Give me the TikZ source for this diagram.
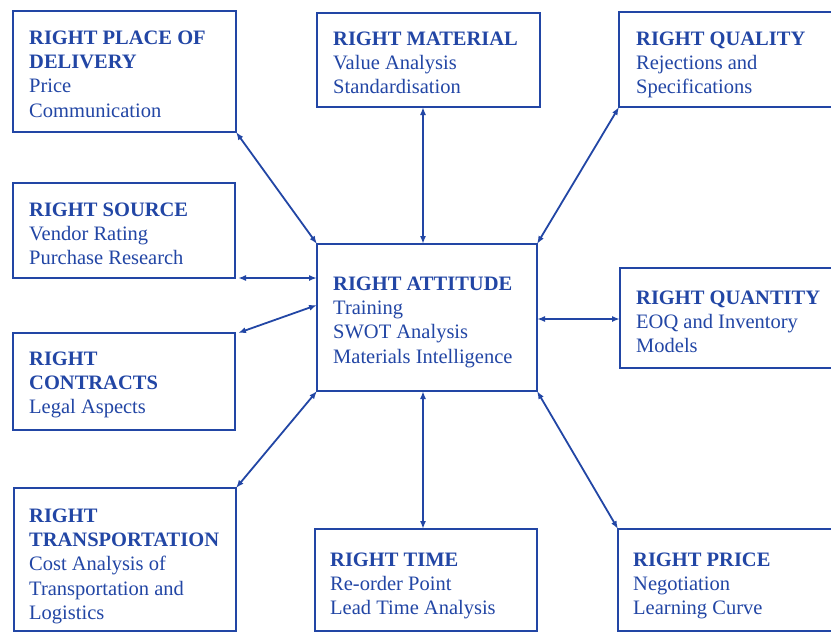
\documentclass[tikz,border=0pt]{standalone}
\usepackage{fontspec}
\setmainfont{Liberation Serif}
\usetikzlibrary{arrows.meta}
\definecolor{ink}{RGB}{34,70,165}
\newcommand{\topstrut}{\rule{0pt}{15pt}}
\tikzset{
  box/.style={draw=ink, line width=2.6pt, inner sep=0pt, outer sep=0pt, rectangle},
  txt/.style={text=ink, anchor=north west, align=left, inner sep=0pt,
    font=\fontsize{20.5}{24.3}\selectfont},
  link/.style={draw=ink, line width=1.8pt,
    {Latex[length=8pt,width=6pt]}-{Latex[length=8pt,width=6pt]}}
}
\begin{document}
\begin{tikzpicture}[x=1pt,y=-1pt]
\clip (0,0) rectangle (831,633);
\fill[white] (0,0) rectangle (831,633);
% boxes
\node[box, minimum width=223, minimum height=121] (del) at (124.5,71.5) {};
\node[box, minimum width=223, minimum height=94]  (mat) at (428.5,60) {};
\node[box, minimum width=221, minimum height=95]  (qua) at (729.5,59.5) {};
\node[box, minimum width=222, minimum height=95]  (src) at (124,230.5) {};
\node[box, minimum width=222, minimum height=97]  (con) at (124,381.5) {};
\node[box, minimum width=220, minimum height=147] (att) at (427,317.5) {};
\node[box, minimum width=220, minimum height=100] (qty) at (730,318) {};
\node[box, minimum width=222, minimum height=143] (tra) at (125,559.5) {};
\node[box, minimum width=222, minimum height=102] (tim) at (426,580) {};
\node[box, minimum width=222, minimum height=102] (pri) at (729,580) {};
% texts
\node[txt] (tdel) at (29,29) {\topstrut\textbf{RIGHT PLACE OF}\\\textbf{DELIVERY}\\Price\\Communication};
\node[txt] (tmat) at (333,30) {\topstrut\textbf{RIGHT MATERIAL}\\Value Analysis\\Standardisation};
\node[txt] (tqua) at (636,30) {\topstrut\textbf{RIGHT QUALITY}\\Rejections and\\Specifications};
\node[txt] (tsrc) at (29,201) {\topstrut\textbf{RIGHT SOURCE}\\Vendor Rating\\Purchase Research};
\node[txt] (tcon) at (29,350) {\topstrut\textbf{RIGHT}\\\textbf{CONTRACTS}\\Legal Aspects};
\node[txt] (tatt) at (333,275) {\topstrut\textbf{RIGHT ATTITUDE}\\Training\\SWOT Analysis\\Materials Intelligence};
\node[txt] (tqty) at (636,289) {\topstrut\textbf{RIGHT QUANTITY}\\EOQ and Inventory\\Models};
\node[txt] (ttra) at (29,507) {\topstrut\textbf{RIGHT}\\\textbf{TRANSPORTATION}\\Cost Analysis of\\Transportation and\\Logistics};
\node[txt] (ttim) at (330,551) {\topstrut\textbf{RIGHT TIME}\\Re-order Point\\Lead Time Analysis};
\node[txt] (tpri) at (633,551) {\topstrut\textbf{RIGHT PRICE}\\Negotiation\\Learning Curve};
% helper coordinates
\coordinate (vx) at (423,0);
\coordinate (qy) at (0,319);
\coordinate (cy) at (0,305);
% connectors
\draw[link] (del.south east) -- (att.north west);
\draw[link] (mat.south -| vx) -- (att.north -| vx);
\draw[link] (qua.south west) -- (att.north east);
\draw[link] ([xshift=3pt]src.south east) -- (att.west |- src.south east);
\draw[link] ([xshift=3pt]con.north east) -- (att.west |- cy);
\draw[link] (att.east |- qy) -- (qty.west |- qy);
\draw[link] (att.south west) -- (tra.north east);
\draw[link] (att.south -| vx) -- (tim.north -| vx);
\draw[link] (att.south east) -- (pri.north west);
\end{tikzpicture}
\end{document}
